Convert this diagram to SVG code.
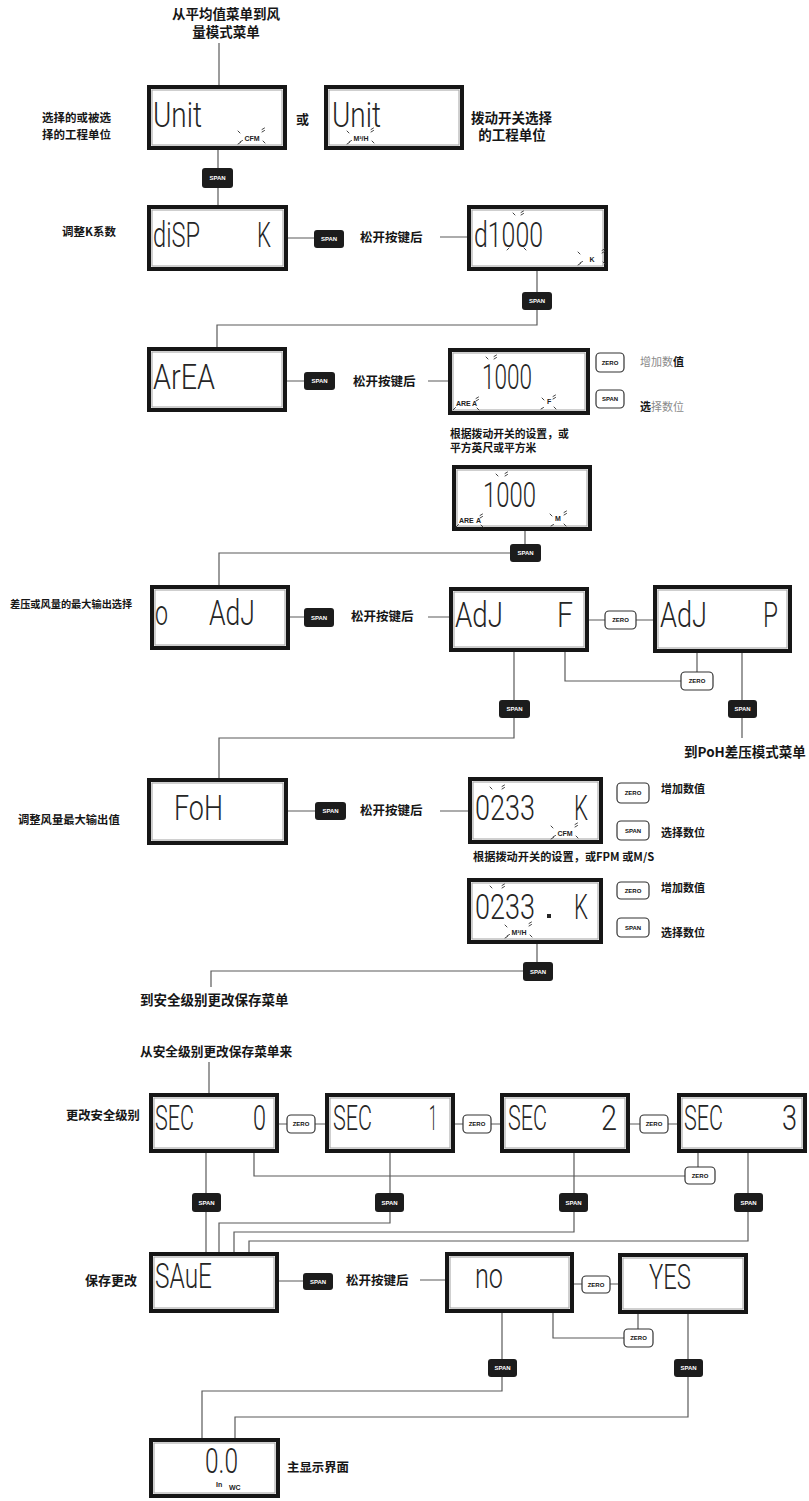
<svg xmlns="http://www.w3.org/2000/svg" width="809" height="1501" viewBox="0 0 809 1501">
<defs>
<style>
.lb{fill:#fff;stroke:#161616;stroke-width:4}
.li{fill:none;stroke:#a0a0a0;stroke-width:1}
.lcd{font-family:Roboto,"DejaVu Sans",sans-serif;font-weight:300;font-size:35px;fill:#262626}
.lbl{font-family:"Noto Sans CJK SC","Noto Sans",sans-serif;font-weight:700;fill:#161616}
.gr{font-weight:400;fill:#8a8a8a}
.con{fill:none;stroke:#5a5a5a;stroke-width:1.2}
.sbr{fill:#1c1c1c}
.zbr{fill:#fff;stroke:#333;stroke-width:1.2}
.bt{font-family:"Liberation Sans",sans-serif;font-weight:700;font-size:6px;text-anchor:middle}
.sbt{fill:#fff}
.zbt{fill:#111}
.u{font-family:"Liberation Sans",sans-serif;font-weight:700;font-size:7px;fill:#222}
.sp{fill:none;stroke:#444;stroke-width:1;stroke-linecap:round}
</style>
<g id="spk" class="sp"><path d="M-14 -7l2 2M10 -6l2.5-1.5M10 -8.5l2.5-1.5M-12 4l2.5-1.5M-14 6l2.5-1.5M11 3l2 2"/></g>
</defs>
<rect width="809" height="1501" fill="#fff"/>

<g id="connectors">
<path class="con" d="M219 43V87"/>
<path class="con" d="M218 150V168M218 188V205"/>
<path class="con" d="M288 238H314M440 237H467"/>
<path class="con" d="M537 271V292M537 310V325H217V347"/>
<path class="con" d="M287 381H304M428 381H448"/>
<path class="con" d="M525 531V544M510 553H219V585"/>
<path class="con" d="M290 617H304M428 617H449M589 620H605M636 620H653"/>
<path class="con" d="M514 652V700M514 718V738H219V778"/>
<path class="con" d="M565 652V681H681M697 653V672"/>
<path class="con" d="M742 653V700M742 718V738"/>
<path class="con" d="M288 811H315M440 811H468"/>
<path class="con" d="M537 944V962M523 971H211V987"/>
<path class="con" d="M209 1062V1093"/>
<path class="con" d="M279 1124H287M315 1124H325M455 1124H463M491 1124H500M630 1124H640M668 1124H677"/>
<path class="con" d="M254 1153V1176H685M698 1153V1167"/>
<path class="con" d="M206 1153V1193M206 1212V1252"/>
<path class="con" d="M390 1153V1193M390 1212V1223H219V1252"/>
<path class="con" d="M574 1153V1193M574 1212V1232H234V1252"/>
<path class="con" d="M748 1153V1193M748 1212V1241H249V1252"/>
<path class="con" d="M279 1281H303M420 1280H445M574 1284H582M610 1284H618"/>
<path class="con" d="M502 1313V1359M502 1377V1391H202V1438"/>
<path class="con" d="M553 1313V1338H624M638 1314V1329"/>
<path class="con" d="M688 1314V1359M688 1377V1417H235V1438"/>
</g>

<g id="labels" class="lbl">
<text x="226" y="19" font-size="13.5" text-anchor="middle">从平均值菜单到风</text>
<text x="226" y="37" font-size="13.5" text-anchor="middle">量模式菜单</text>
<text x="42" y="122" font-size="11.5">选择的或被选</text>
<text x="42" y="139" font-size="11.5">择的工程单位</text>
<text x="296" y="124" font-size="13">或</text>
<text x="471" y="123" font-size="13.5">拨动开关选择</text>
<text x="512" y="140" font-size="13.5" text-anchor="middle">的工程单位</text>
<text x="62" y="236" font-size="11.5">调整K系数</text>
<text x="360" y="242" font-size="12.5">松开按键后</text>
<text x="353" y="386" font-size="12.5">松开按键后</text>
<text x="640" y="366" font-size="11"><tspan class="gr">增加数</tspan>值</text>
<text x="640" y="411" font-size="11">选<tspan class="gr">择数位</tspan></text>
<text x="450" y="438" font-size="10.8">根据拨动开关的设置，或</text>
<text x="450" y="452" font-size="10.8">平方英尺或平方米</text>
<text x="10" y="608" font-size="10.2">差压或风量的最大输出选择</text>
<text x="351" y="621" font-size="12.5">松开按键后</text>
<text x="684" y="757" font-size="13.5">到PoH差压模式菜单</text>
<text x="18" y="824" font-size="11.3">调整风量最大输出值</text>
<text x="360" y="815" font-size="12.5">松开按键后</text>
<text x="661" y="793" font-size="11">增加数值</text>
<text x="661" y="837" font-size="11">选择数位</text>
<text x="473" y="861" font-size="11.2">根据拨动开关的设置，或FPM 或M/S</text>
<text x="661" y="892" font-size="11">增加数值</text>
<text x="661" y="937" font-size="11">选择数位</text>
<text x="140" y="1005" font-size="13.5">到安全级别更改保存菜单</text>
<text x="140" y="1056" font-size="12.7">从安全级别更改保存菜单来</text>
<text x="66" y="1120" font-size="12.3">更改安全级别</text>
<text x="85" y="1285" font-size="13">保存更改</text>
<text x="346" y="1285" font-size="12.5">松开按键后</text>
<text x="287" y="1472" font-size="12.4">主显示界面</text>
</g>

<g id="n-unit-cfm">
<rect class="lb" x="149" y="87" width="136" height="61"/><rect class="li" x="152" y="90" width="130" height="55"/>
<text class="lcd" x="153" y="127" textLength="49" lengthAdjust="spacingAndGlyphs">Unit</text>
<text class="u" x="252" y="141" text-anchor="middle">CFM</text><use href="#spk" x="252" y="138"/>
</g>
<g id="n-unit-m3h">
<rect class="lb" x="326" y="87" width="136" height="61"/><rect class="li" x="329" y="90" width="130" height="55"/>
<text class="lcd" x="332" y="127" textLength="49" lengthAdjust="spacingAndGlyphs">Unit</text>
<text class="u" x="361" y="141" text-anchor="middle">M³/H</text><use href="#spk" x="361" y="138"/>
</g>
<g id="n-disp">
<rect class="lb" x="149" y="207" width="137" height="62"/><rect class="li" x="152" y="210" width="131" height="56"/>
<text class="lcd" x="153" y="247" textLength="47" lengthAdjust="spacingAndGlyphs">diSP</text>
<text class="lcd" x="257" y="247" textLength="14" lengthAdjust="spacingAndGlyphs">K</text>
</g>
<g id="n-d1000">
<rect class="lb" x="469" y="207" width="137" height="62"/><rect class="li" x="472" y="210" width="131" height="56"/>
<text class="lcd" x="474" y="247" textLength="69" lengthAdjust="spacingAndGlyphs">d1000</text>
<path class="sp" d="M513 213l2 2M521 215l2.5-1.5M521 212.5l2.5-1.5M507 250l2-2M524 248l2 2"/>
<text class="u" x="592" y="262" text-anchor="middle">K</text><use href="#spk" x="592" y="259"/>
</g>
<g id="n-area">
<rect class="lb" x="149" y="349" width="136" height="61"/><rect class="li" x="152" y="352" width="130" height="55"/>
<text class="lcd" x="153" y="389" textLength="62" lengthAdjust="spacingAndGlyphs">ArEA</text>
</g>
<g id="n-1000-f">
<rect class="lb" x="450" y="350" width="138" height="63"/><rect class="li" x="453" y="353" width="132" height="57"/>
<text class="lcd" x="482" y="389" textLength="50" lengthAdjust="spacingAndGlyphs">1000</text>
<path class="sp" d="M486 357l2 2M494 359l2.5-1.5M494 356.5l2.5-1.5"/>
<text class="u" x="456" y="406" font-size="6">ARE</text><text class="u" x="472" y="406" font-size="6">A</text>
<path class="sp" d="M453 410l2.5-2.5M476 401l2.5-1.5M476 398.5l2.5-1.5M477 408l2 2"/>
<text class="u" x="547" y="404" font-size="6.5">F</text>
<path class="sp" d="M542 398l2 2M553 399l2.5-1.5M553 396.5l2.5-1.5M541 409l2.5-1.5M554 407l2 2"/>
</g>
<g id="n-1000-m">
<rect class="lb" x="454" y="467" width="136" height="62"/><rect class="li" x="457" y="470" width="130" height="56"/>
<text class="lcd" x="483" y="507" textLength="53" lengthAdjust="spacingAndGlyphs">1000</text>
<path class="sp" d="M496 474l2 2M505 476l2.5-1.5M505 473.5l2.5-1.5"/>
<text class="u" x="459" y="523" font-size="6">ARE</text><text class="u" x="476" y="523" font-size="6">A</text>
<path class="sp" d="M456 527l2.5-2.5M480 518l2.5-1.5M480 515.5l2.5-1.5M481 525l2 2"/>
<text class="u" x="555" y="521" font-size="6.5">M</text>
<path class="sp" d="M550 514l2 2M564 515l2.5-1.5M564 512.5l2.5-1.5M551 526l2.5-1.5M564 524l2 2"/>
</g>
<g id="n-o-adj">
<rect class="lb" x="152" y="587" width="136" height="61"/><rect class="li" x="155" y="590" width="130" height="55"/>
<text class="lcd" x="155" y="625" font-size="30" textLength="13" lengthAdjust="spacingAndGlyphs">o</text>
<text class="lcd" x="209" y="625" textLength="46" lengthAdjust="spacingAndGlyphs">AdJ</text>
</g>
<g id="n-adj-f">
<rect class="lb" x="451" y="589" width="136" height="61"/><rect class="li" x="454" y="592" width="130" height="55"/>
<text class="lcd" x="455" y="627" textLength="48" lengthAdjust="spacingAndGlyphs">AdJ</text>
<text class="lcd" x="557" y="627" textLength="16" lengthAdjust="spacingAndGlyphs">F</text>
</g>
<g id="n-adj-p">
<rect class="lb" x="655" y="587" width="135" height="64"/><rect class="li" x="658" y="590" width="129" height="58"/>
<text class="lcd" x="660" y="627" textLength="47" lengthAdjust="spacingAndGlyphs">AdJ</text>
<text class="lcd" x="763" y="627" textLength="15" lengthAdjust="spacingAndGlyphs">P</text>
</g>
<g id="n-foh">
<rect class="lb" x="149" y="780" width="137" height="63"/><rect class="li" x="152" y="783" width="131" height="57"/>
<text class="lcd" x="174" y="820" textLength="49" lengthAdjust="spacingAndGlyphs">FoH</text>
</g>
<g id="n-0233-cfm">
<rect class="lb" x="470" y="779" width="131" height="63"/><rect class="li" x="473" y="782" width="125" height="57"/>
<text class="lcd" x="475" y="820" textLength="60" lengthAdjust="spacingAndGlyphs">0233</text>
<text class="lcd" x="574" y="820" textLength="14" lengthAdjust="spacingAndGlyphs">K</text>
<path class="sp" d="M490 787l2 2M502 789l2.5-1.5M502 786.5l2.5-1.5"/>
<text class="u" x="565" y="836" text-anchor="middle">CFM</text><use href="#spk" x="565" y="833"/>
</g>
<g id="n-0233-m3h">
<rect class="lb" x="469" y="880" width="132" height="62"/><rect class="li" x="472" y="883" width="126" height="56"/>
<text class="lcd" x="475" y="919" textLength="60" lengthAdjust="spacingAndGlyphs">0233</text>
<rect x="547" y="914" width="4" height="4" fill="#262626"/>
<text class="lcd" x="574" y="919" textLength="14" lengthAdjust="spacingAndGlyphs">K</text>
<path class="sp" d="M490 886l2 2M502 888l2.5-1.5M502 885.5l2.5-1.5"/>
<text class="u" x="519" y="935" text-anchor="middle">M³/H</text><use href="#spk" x="519" y="932"/>
</g>
<g id="n-sec0">
<rect class="lb" x="151" y="1095" width="126" height="56"/><rect class="li" x="154" y="1098" width="120" height="50"/>
<text class="lcd" x="155" y="1130" textLength="39" lengthAdjust="spacingAndGlyphs">SEC</text>
<text class="lcd" x="253" y="1130" textLength="13" lengthAdjust="spacingAndGlyphs">0</text>
</g>
<g id="n-sec1">
<rect class="lb" x="327" y="1095" width="126" height="56"/><rect class="li" x="330" y="1098" width="120" height="50"/>
<text class="lcd" x="333" y="1130" textLength="39" lengthAdjust="spacingAndGlyphs">SEC</text>
<text class="lcd" x="429" y="1130" textLength="8" lengthAdjust="spacingAndGlyphs">1</text>
</g>
<g id="n-sec2">
<rect class="lb" x="502" y="1095" width="126" height="56"/><rect class="li" x="505" y="1098" width="120" height="50"/>
<text class="lcd" x="508" y="1130" textLength="39" lengthAdjust="spacingAndGlyphs">SEC</text>
<text class="lcd" x="601" y="1130" textLength="16" lengthAdjust="spacingAndGlyphs">2</text>
</g>
<g id="n-sec3">
<rect class="lb" x="679" y="1095" width="126" height="56"/><rect class="li" x="682" y="1098" width="120" height="50"/>
<text class="lcd" x="684" y="1130" textLength="39" lengthAdjust="spacingAndGlyphs">SEC</text>
<text class="lcd" x="782" y="1130" textLength="15" lengthAdjust="spacingAndGlyphs">3</text>
</g>
<g id="n-save">
<rect class="lb" x="151" y="1254" width="126" height="57"/><rect class="li" x="154" y="1257" width="120" height="51"/>
<text class="lcd" x="155" y="1288" textLength="57" lengthAdjust="spacingAndGlyphs">SAuE</text>
</g>
<g id="n-no">
<rect class="lb" x="447" y="1254" width="125" height="57"/><rect class="li" x="450" y="1257" width="119" height="51"/>
<text class="lcd" x="475" y="1288" font-size="30" textLength="28" lengthAdjust="spacingAndGlyphs">no</text>
</g>
<g id="n-yes">
<rect class="lb" x="620" y="1255" width="126" height="57"/><rect class="li" x="623" y="1258" width="120" height="51"/>
<text class="lcd" x="649" y="1289" textLength="42" lengthAdjust="spacingAndGlyphs">YES</text>
</g>
<g id="n-main">
<rect class="lb" x="151" y="1440" width="127" height="56"/><rect class="li" x="154" y="1443" width="121" height="50"/>
<text class="lcd" x="205" y="1473" font-size="29" textLength="33" lengthAdjust="spacingAndGlyphs">0.0</text>
<text class="u" x="216" y="1487" font-size="5.5">In</text>
<text class="u" x="229" y="1490" font-size="6.5">WC</text>
</g>

<g id="badges">
<g class="sbr">
<rect x="202" y="168" width="31" height="20" rx="3"/>
<rect x="314" y="230" width="30" height="18" rx="3"/>
<rect x="522" y="292" width="30" height="18" rx="3"/>
<rect x="304" y="372" width="31" height="18" rx="3"/>
<rect x="510" y="544" width="31" height="18" rx="3"/>
<rect x="304" y="608" width="30" height="19" rx="3"/>
<rect x="499" y="700" width="31" height="18" rx="3"/>
<rect x="728" y="700" width="29" height="18" rx="3"/>
<rect x="315" y="802" width="31" height="18" rx="3"/>
<rect x="523" y="962" width="30" height="19" rx="3"/>
<rect x="192" y="1193" width="29" height="19" rx="3"/>
<rect x="375" y="1193" width="29" height="19" rx="3"/>
<rect x="559" y="1193" width="29" height="19" rx="3"/>
<rect x="734" y="1193" width="29" height="19" rx="3"/>
<rect x="303" y="1273" width="30" height="17" rx="3"/>
<rect x="488" y="1359" width="29" height="18" rx="3"/>
<rect x="674" y="1359" width="29" height="18" rx="3"/>
</g>
<g class="bt sbt">
<text x="217.5" y="180">SPAN</text>
<text x="329" y="241">SPAN</text>
<text x="537" y="303">SPAN</text>
<text x="319.5" y="383">SPAN</text>
<text x="525.5" y="555">SPAN</text>
<text x="319" y="619.5">SPAN</text>
<text x="514.5" y="711">SPAN</text>
<text x="742.5" y="711">SPAN</text>
<text x="330.5" y="813">SPAN</text>
<text x="538" y="973.5">SPAN</text>
<text x="206.5" y="1204.5">SPAN</text>
<text x="389.5" y="1204.5">SPAN</text>
<text x="573.5" y="1204.5">SPAN</text>
<text x="748.5" y="1204.5">SPAN</text>
<text x="318" y="1283.5">SPAN</text>
<text x="502.5" y="1370">SPAN</text>
<text x="688.5" y="1370">SPAN</text>
</g>
<g class="zbr">
<rect x="596" y="390" width="28" height="18" rx="4"/>
<rect x="617" y="821" width="32" height="19" rx="4"/>
<rect x="617" y="918" width="32" height="19" rx="4"/>
<rect x="596" y="353" width="28" height="19" rx="4"/>
<rect x="605" y="611" width="31" height="18" rx="4"/>
<rect x="681" y="672" width="32" height="18" rx="4"/>
<rect x="617" y="783" width="32" height="20" rx="4"/>
<rect x="617" y="882" width="32" height="17" rx="4"/>
<rect x="287" y="1115" width="28" height="18" rx="4"/>
<rect x="463" y="1115" width="28" height="18" rx="4"/>
<rect x="640" y="1115" width="28" height="18" rx="4"/>
<rect x="685" y="1167" width="30" height="17" rx="4"/>
<rect x="582" y="1276" width="28" height="17" rx="4"/>
<rect x="624" y="1329" width="29" height="18" rx="4"/>
</g>
<g class="bt zbt">
<text x="610" y="401">SPAN</text>
<text x="633" y="832.5">SPAN</text>
<text x="633" y="929.5">SPAN</text>
<text x="610" y="364.5">ZERO</text>
<text x="620.5" y="622">ZERO</text>
<text x="697" y="683">ZERO</text>
<text x="633" y="795">ZERO</text>
<text x="633" y="892.5">ZERO</text>
<text x="301" y="1126">ZERO</text>
<text x="477" y="1126">ZERO</text>
<text x="654" y="1126">ZERO</text>
<text x="700" y="1177.5">ZERO</text>
<text x="596" y="1286.5">ZERO</text>
<text x="638.5" y="1340">ZERO</text>
</g>
</g>
</svg>
